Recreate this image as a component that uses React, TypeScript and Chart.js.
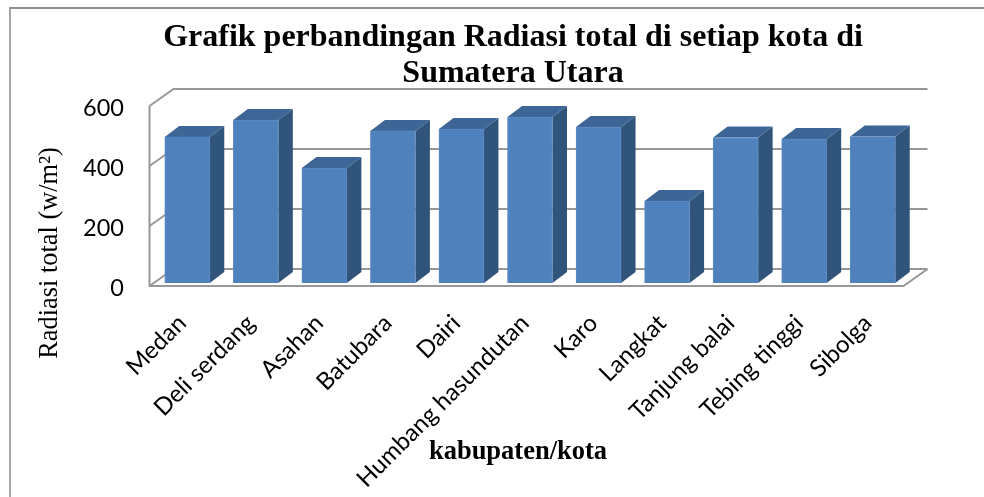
import React, { useEffect, useRef } from "react";
import { Chart, registerables } from "chart.js";

Chart.register(...registerables);

const categories = ["Medan", "Deli serdang", "Asahan", "Batubara", "Dairi", "Humbang hasundutan", "Karo", "Langkat", "Tanjung balai", "Tebing tinggi", "Sibolga"];
const radiasi = [487, 543, 383, 507, 513, 553, 520, 273, 485, 480, 488];
const yTicks = [0, 200, 400, 600];
const titleLines = ["Grafik perbandingan Radiasi total di setiap kota di", "Sumatera Utara"];
const xCaption = "kabupaten/kota";
const yCaption = "Radiasi total (w/m²)";

const GRID = "#979797";
const FRONT = "#4F81BD";
const TOP = "#3D6595";
const SIDE = "#31547B";
const FLOOR_DX = 24, FLOOR_DY = -17;
const BAR_DX = 14.5, BAR_DY = -11;
const BAR_SHIFT = -5;
const GRID_SHIFT = -2;

const threeD = {
  id: "threeD",
  beforeDatasetsDraw(chart: any) {
    const { ctx, scales, chartArea } = chart;
    const y = scales.y;
    const left = chartArea.left - 3.5;
    const right = chartArea.right - 3.5;
    ctx.save();
    ctx.strokeStyle = GRID;
    ctx.lineWidth = 2;
    yTicks.forEach((t) => {
      const py = y.getPixelForValue(t) + GRID_SHIFT;
      ctx.beginPath();
      ctx.moveTo(left, py);
      ctx.lineTo(left + FLOOR_DX, py + FLOOR_DY);
      ctx.lineTo(right + FLOOR_DX, py + FLOOR_DY);
      ctx.stroke();
    });
    const p0 = y.getPixelForValue(0) + GRID_SHIFT;
    const pTop = y.getPixelForValue(600) + GRID_SHIFT;
    ctx.beginPath();
    ctx.moveTo(left, pTop);
    ctx.lineTo(left, p0);
    ctx.lineTo(right, p0);
    ctx.lineTo(right + FLOOR_DX, p0 + FLOOR_DY);
    ctx.stroke();
    ctx.restore();

    ctx.save();
    ctx.translate(0, BAR_SHIFT);
    chart.getDatasetMeta(0).data.forEach((bar: any) => {
      const l = bar.x - bar.width / 2;
      const r = bar.x + bar.width / 2;
      const t = bar.y;
      const b = bar.base;
      ctx.fillStyle = SIDE;
      ctx.beginPath();
      ctx.moveTo(r, t);
      ctx.lineTo(r + BAR_DX, t + BAR_DY);
      ctx.lineTo(r + BAR_DX, b + BAR_DY);
      ctx.lineTo(r, b);
      ctx.closePath();
      ctx.fill();
      ctx.fillStyle = TOP;
      ctx.beginPath();
      ctx.moveTo(l, t);
      ctx.lineTo(l + BAR_DX, t + BAR_DY);
      ctx.lineTo(r + BAR_DX, t + BAR_DY);
      ctx.lineTo(r, t);
      ctx.closePath();
      ctx.fill();
    });
    ctx.restore();
    ctx.save();
    ctx.translate(0, BAR_SHIFT);
  },
  afterDatasetsDraw(chart: any) {
    chart.ctx.restore();
  },
  afterDraw(chart: any) {
    const { ctx } = chart;
    ctx.save();
    ctx.fillStyle = "#000";
    ctx.textBaseline = "middle";
    ctx.textAlign = "center";
    ctx.font = "bold 26.5px 'Liberation Serif'";
    ctx.fillText(xCaption, 518, 452);
    ctx.translate(50, 253);
    ctx.rotate(-Math.PI / 2);
    ctx.font = "26.4px 'Liberation Serif'";
    ctx.fillText(yCaption, 0, 0);
    ctx.restore();
  },
};

export default function App() {
  const ref = useRef<HTMLCanvasElement>(null);
  useEffect(() => {
    document.body.style.margin = "0";
    const chart = new Chart(ref.current!, {
      type: "bar",
      data: {
        labels: categories,
        datasets: [{ label: "Radiasi total", data: radiasi, backgroundColor: FRONT, borderColor: "#5B8CC6", borderWidth: 1, barThickness: 45, yAxisID: "y" }],
      },
      options: {
        responsive: false,
        animation: false,
        layout: { padding: { left: 42, right: 0, top: 0, bottom: 0 } },
        plugins: {
          legend: { display: false },
          tooltip: { enabled: false },
          title: {
            display: true,
            text: titleLines,
            color: "#000",
            font: { family: "'Liberation Serif'", size: 32, weight: "bold", lineHeight: 1.125 },
            padding: { top: 20, bottom: 16 },
          },
        },
        scales: {
          x: {
            grid: { display: false },
            border: { display: false },
            ticks: {
              autoSkip: false,
              minRotation: 45,
              maxRotation: 45,
              padding: 13,
              labelOffset: -5,
              color: "#000",
              font: { family: "Lato", size: 24 },
            },
            afterFit(s: any) { s.height = 209; },
          },
          y: {
            min: 0,
            max: 600,
            grid: { display: false },
            border: { display: false },
            afterBuildTicks(s: any) { s.ticks = yTicks.map((value) => ({ value })); },
            ticks: {
              padding: 21,
              color: "#000",
              font: { family: "Lato", size: 23.5 },
            },
            afterFit(s: any) { s.width = 111; },
          },
          spacer: {
            type: "linear",
            position: "right",
            grid: { display: false },
            border: { display: false },
            ticks: { display: false },
            afterFit(s: any) { s.width = 77; },
          },
        },
      },
      plugins: [threeD],
    } as any);
    return () => chart.destroy();
  }, []);
  return (
    <div style={{ position: "relative", width: 984, height: 497, overflow: "hidden" }}>
      <div style={{ position: "absolute", left: 9, top: 7, right: 0, bottom: 0, borderLeft: "2px solid #A6A6A6", borderTop: "2px solid #8F8F8F" }} />
      <canvas ref={ref} width={984} height={497} style={{ position: "absolute", left: 0, top: 0, display: "block" }} />
    </div>
  );
}
